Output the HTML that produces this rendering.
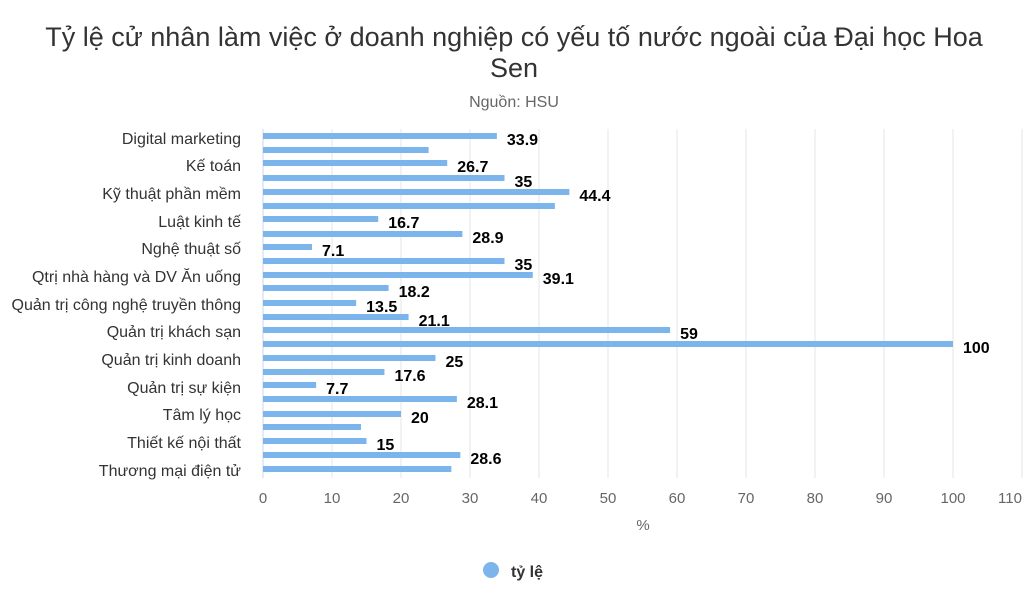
<!DOCTYPE html>
<html><head><meta charset="utf-8"><style>
body{margin:0;background:#fff;}
svg text{font-family:"Liberation Sans",Arial,sans-serif;}
</style></head><body>
<svg width="1028" height="584" xmlns="http://www.w3.org/2000/svg">
<rect width="1028" height="584" fill="#fff"/>
<text x="514" y="46" text-anchor="middle" font-size="27" fill="#333">Tỷ lệ cử nhân làm việc ở doanh nghiệp có yếu tố nước ngoài của Đại học Hoa</text>
<text x="514" y="77" text-anchor="middle" font-size="27" fill="#333">Sen</text>
<text x="514" y="107" text-anchor="middle" font-size="16" fill="#666">Nguồn: HSU</text>
<g stroke="#e6e6e6" stroke-width="1">
<line x1="332" y1="129" x2="332" y2="478"/><line x1="401" y1="129" x2="401" y2="478"/><line x1="470" y1="129" x2="470" y2="478"/><line x1="539" y1="129" x2="539" y2="478"/><line x1="608" y1="129" x2="608" y2="478"/><line x1="677" y1="129" x2="677" y2="478"/><line x1="746" y1="129" x2="746" y2="478"/><line x1="815" y1="129" x2="815" y2="478"/><line x1="884" y1="129" x2="884" y2="478"/><line x1="953" y1="129" x2="953" y2="478"/><line x1="1022" y1="129" x2="1022" y2="478"/>
</g>
<line x1="263" y1="129" x2="263" y2="478" stroke="#ccd6eb"/>
<g font-size="16" fill="#333" text-anchor="end">
<text x="241" y="144">Digital marketing</text>
<text x="241" y="171">Kế toán</text>
<text x="241" y="199">Kỹ thuật phần mềm</text>
<text x="241" y="227">Luật kinh tế</text>
<text x="241" y="254">Nghệ thuật số</text>
<text x="241" y="282">Qtrị nhà hàng và DV Ăn uống</text>
<text x="241" y="310">Quản trị công nghệ truyền thông</text>
<text x="241" y="337">Quản trị khách sạn</text>
<text x="241" y="365">Quản trị kinh doanh</text>
<text x="241" y="393">Quản trị sự kiện</text>
<text x="241" y="420">Tâm lý học</text>
<text x="241" y="448">Thiết kế nội thất</text>
<text x="241" y="476">Thương mại điện tử</text>
</g>
<g fill="#7cb5ec" id="bars"></g>
<g font-size="16" font-weight="bold" fill="#000" id="labels"></g>
<g font-size="15" fill="#666" text-anchor="middle">
<text x="263" y="503">0</text><text x="332" y="503">10</text><text x="401" y="503">20</text><text x="470" y="503">30</text><text x="539" y="503">40</text><text x="608" y="503">50</text><text x="677" y="503">60</text><text x="746" y="503">70</text><text x="815" y="503">80</text><text x="884" y="503">90</text><text x="953" y="503">100</text><text x="1010" y="503">110</text>
</g>
<text x="643" y="530" text-anchor="middle" font-size="15" fill="#666">%</text>
<circle cx="491" cy="570" r="8" fill="#7cb5ec"/>
<text x="511" y="577" font-size="16" font-weight="bold" fill="#333">tỷ lệ</text>
<script>
var d=[[136,33.9,1],[150,24,0],[163,26.7,1],[178,35,1],[192,44.4,1],[206,42.3,0],[219,16.7,1],[234,28.9,1],[247,7.1,1],[261,35,1],[275,39.1,1],[288,18.2,1],[303,13.5,1],[317,21.1,1],[330,59,1],[344,100,1],[358,25,1],[372,17.6,1],[385,7.7,1],[399,28.1,1],[414,20,1],[427,14.2,0],[441,15,1],[455,28.6,1],[469,27.3,0]];
var b=document.getElementById('bars'),l=document.getElementById('labels'),ns='http://www.w3.org/2000/svg';
d.forEach(function(r){var w=r[1]*6.9;var e=document.createElementNS(ns,'rect');e.setAttribute('x',263);e.setAttribute('y',r[0]-3);e.setAttribute('width',w);e.setAttribute('height',6);b.appendChild(e);
if(r[2]){var t=document.createElementNS(ns,'text');t.setAttribute('x',263+w+10);t.setAttribute('y',r[0]+9);t.textContent=String(r[1]);l.appendChild(t);}});
</script>
</svg>
</body></html>
